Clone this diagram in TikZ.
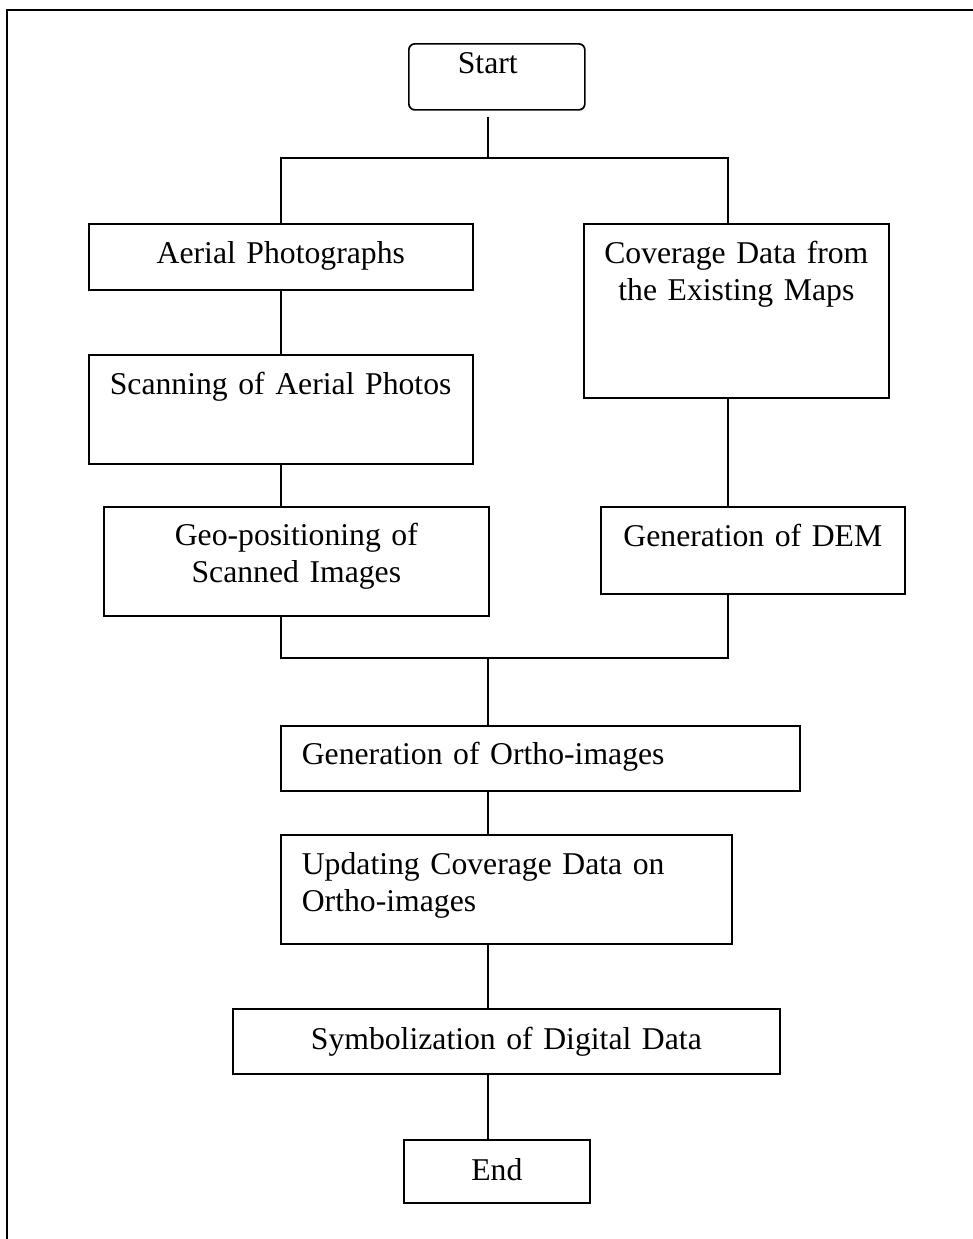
\documentclass[tikz,border=0pt]{standalone}
\usepackage{fontspec}
\setmainfont{Liberation Serif}
\begin{document}
\begin{tikzpicture}[x=0.5pt,y=-0.5pt,
    stepbox/.style={draw, line width=0.85pt, inner ysep=0pt, anchor=north west,
      font=\fontsize{15.85pt}{18.5pt}\selectfont},
    link/.style={line width=0.7pt}]
  \useasboundingbox (0,0) rectangle (973,1239);
  % page frame
  \draw[line width=1pt] (7,1239) -- (7,10) -- (973,10);
  % steps
  \node[stepbox, rounded corners=3pt, text width=39pt, inner xsep=24.5pt, align=left,
    text height=15pt, text depth=18pt] (start) at (408,43) {Start};
  \node[stepbox, text width=182pt, inner xsep=5pt, align=center,
    text height=20pt, text depth=13pt] (aerial) at (88,223) {Aerial Photographs};
  \node[stepbox, text width=171pt, inner xsep=10.5pt, align=left,
    text height=20pt, text depth=34.5pt] (scan) at (88,354) {Scanning of Aerial Photos};
  \node[stepbox, text width=182.5pt, inner xsep=5pt, align=center,
    text height=19.5pt, text depth=35pt] (geo) at (103,506) {Geo-positioning of\\Scanned Images};
  \node[stepbox, text width=142.5pt, inner xsep=5pt, align=center,
    text height=20pt, text depth=67pt] (cover) at (583,223) {Coverage Data from\\the Existing Maps};
  \node[stepbox, text width=142pt, inner xsep=5pt, align=center,
    text height=20pt, text depth=23.5pt] (dem) at (600,506) {Generation of DEM};
  \node[stepbox, text width=238.5pt, inner xsep=10.5pt, align=left,
    text height=19.5pt, text depth=13pt] (ortho) at (280,725) {Generation of Ortho-images};
  \node[stepbox, text width=204.5pt, inner xsep=10.5pt, align=left,
    text height=20pt, text depth=34.5pt] (update) at (280,834) {Updating Coverage Data on\\Ortho-images};
  \node[stepbox, text width=263.5pt, inner xsep=5pt, align=center,
    text height=20.5pt, text depth=12pt] (symbol) at (232,1008) {Symbolization of Digital Data};
  \node[stepbox, text width=83pt, inner xsep=5pt, align=center,
    text height=20.5pt, text depth=11pt] (finish) at (403,1139) {End};
  % junctions
  \coordinate (split) at (488,158);
  \coordinate (rsplit) at (728,158);
  \coordinate (rmerge) at (728,658);
  \coordinate (merge) at (488,658);
  % connectors
  \draw[link, shorten <=3pt] (start.south -| split) -- (split);
  \draw[link] (aerial.north) |- (rsplit) -- (cover.north -| rsplit);
  \draw[link] (aerial.south) -- (scan.north);
  \draw[link] (scan.south) -- (geo.north -| scan.south);
  \draw[link] (cover.south -| rsplit) -- (dem.north -| rsplit);
  \draw[link] (geo.south -| scan.south) |- (rmerge) -- (dem.south -| rmerge);
  \draw[link] (merge) -- (ortho.north -| merge);
  \draw[link] (ortho.south -| merge) -- (update.north -| merge);
  \draw[link] (update.south -| merge) -- (symbol.north -| merge);
  \draw[link] (symbol.south -| merge) -- (finish.north -| merge);
\end{tikzpicture}
\end{document}
